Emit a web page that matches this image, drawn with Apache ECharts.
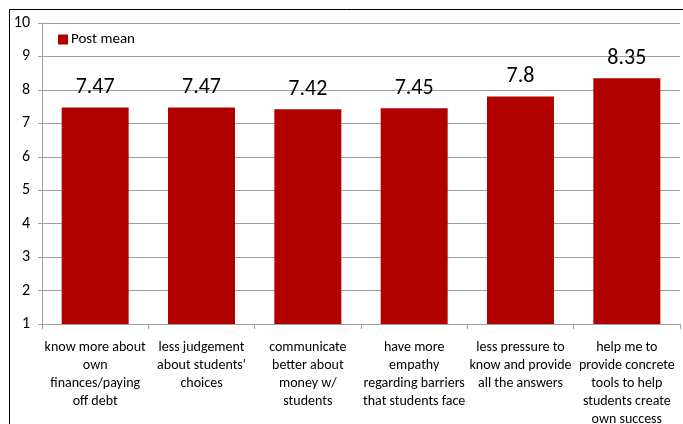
<!DOCTYPE html>
<html>
<head>
<meta charset="utf-8">
<script src="https://cdn.jsdelivr.net/npm/echarts@6/dist/echarts.min.js"></script>
<style>
  html, body { margin: 0; padding: 0; background: #fff; }
  #chart { width: 683px; height: 424px; }
</style>
</head>
<body>
<div id="chart"></div>
<script>
// Survey items and their post-training mean ratings
const categories = [
  'know more about\nown\nfinances/paying\noff debt',
  'less judgement\nabout students\'\nchoices',
  'communicate\nbetter about\nmoney w/\nstudents',
  'have more\nempathy\nregarding barriers\nthat students face',
  'less pressure to\nknow and provide\nall the answers',
  'help me to\nprovide concrete\ntools to help\nstudents create\nown success'
];
const postMean = [7.47, 7.47, 7.42, 7.45, 7.8, 8.35];
const seriesName = 'Post mean';

const FONT = "Carlito, Lato, sans-serif";
const chart = echarts.init(document.getElementById('chart'));

chart.setOption({
  animation: false,
  textStyle: { fontFamily: FONT },
  graphic: [{
    type: 'rect',
    shape: { x: 9.5, y: 9.5, width: 700, height: 440 },
    style: { fill: 'none', stroke: '#000', lineWidth: 1 },
    silent: true
  }],
  legend: {
    left: 53, top: 27,
    itemWidth: 10, itemHeight: 10, itemGap: 4,
    icon: 'rect',
    textStyle: { fontSize: 15, color: '#000', fontFamily: FONT, padding: [0, 0, 0, -2] },
    data: [seriesName]
  },
  grid: { left: 42, right: 3, top: 23, bottom: 100, outerBoundsMode: 'none', containLabel: false },
  xAxis: {
    type: 'category',
    data: categories,
    axisLine: { lineStyle: { color: '#a0a0a0', width: 1 } },
    axisTick: { show: true, length: 5, lineStyle: { color: '#a0a0a0' } },
    axisLabel: {
      interval: 0, color: '#000', fontSize: 14, lineHeight: 18,
      margin: 14, fontFamily: FONT
    }
  },
  yAxis: {
    type: 'value',
    min: 1, max: 10, interval: 1,
    axisLine: { show: true, lineStyle: { color: '#a0a0a0' } },
    axisTick: { show: true, length: 4, lineStyle: { color: '#a0a0a0' } },
    axisLabel: { color: '#000', fontSize: 16, margin: 12, fontFamily: FONT },
    splitLine: { lineStyle: { color: '#a0a0a0', width: 1 } }
  },
  series: [{
    name: seriesName,
    type: 'bar',
    data: postMean,
    barCategoryGap: '37%',
    itemStyle: { color: '#B00000' },
    label: {
      show: true, position: 'top', distance: 9,
      color: '#000', fontSize: 22, fontFamily: FONT
    }
  }]
});
</script>
</body>
</html>
